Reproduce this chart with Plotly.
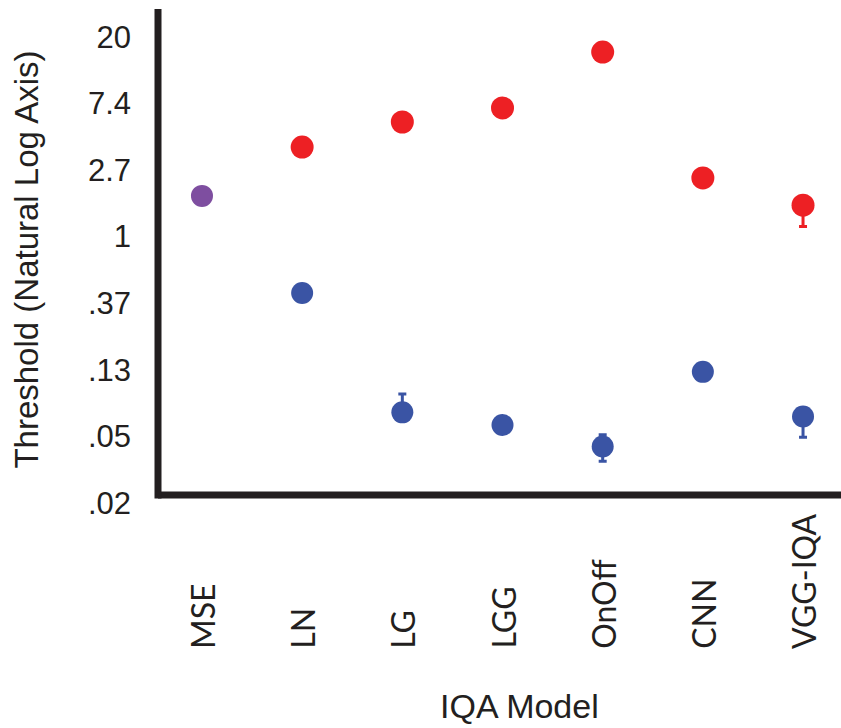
import math
import plotly.graph_objects as go

models = ["MSE", "LN", "LG", "LGG", "OnOff", "CNN", "VGG-IQA"]

mse_value = [1.84]
red_models = ["LN", "LG", "LGG", "OnOff", "CNN", "VGG-IQA"]
red_values = [3.83, 5.58, 6.89, 15.96, 2.41, 1.60]
red_err_plus = [0.15, 0.22, 0.27, 0.6, 0.09, 0.12]
red_err_minus = [0.15, 0.22, 0.27, 0.6, 0.09, 0.44]

blue_models = ["LN", "LG", "LGG", "OnOff", "CNN", "VGG-IQA"]
blue_values = [0.428, 0.0713, 0.059, 0.0427, 0.131, 0.067]
blue_err_plus = [0.017, 0.0226, 0.0023, 0.0082, 0.005, 0.0025]
blue_err_minus = [0.017, 0.0028, 0.0023, 0.0085, 0.005, 0.018]

tick_vals = [math.exp(k) for k in range(-4, 4)]
tick_text = [".02", ".05", ".13", ".37", "1", "2.7", "7.4", "20"]

RED = "#ed2024"
BLUE = "#3a54a4"
PURPLE = "#7e4ea0"
AXIS = "#231f20"

fig = go.Figure()
fig.add_trace(go.Scatter(
    x=["MSE"], y=mse_value, mode="markers",
    marker=dict(size=22, color=PURPLE, line=dict(width=0)),
    showlegend=False))
fig.add_trace(go.Scatter(
    x=red_models, y=red_values, mode="markers",
    marker=dict(size=23, color=RED, line=dict(width=0)),
    error_y=dict(type="data", symmetric=False, array=red_err_plus,
                 arrayminus=red_err_minus, color=RED, thickness=3, width=4),
    showlegend=False))
fig.add_trace(go.Scatter(
    x=blue_models, y=blue_values, mode="markers",
    marker=dict(size=22, color=BLUE, line=dict(width=0)),
    error_y=dict(type="data", symmetric=False, array=blue_err_plus,
                 arrayminus=blue_err_minus, color=BLUE, thickness=3, width=4),
    showlegend=False))

# plot area: top pixel 9, bottom pixel 510 ; x-axis line drawn at pixel 495
H_PLOT = 501.0
axis_frac = (510 - 495) / H_PLOT
corner_frac = (510 - 498.5) / H_PLOT

fig.update_layout(
    width=841, height=728,
    margin=dict(l=158, r=0, t=9, b=218),
    paper_bgcolor="white", plot_bgcolor="white",
    font=dict(family="Liberation Sans, Arial, sans-serif", color=AXIS),
    xaxis=dict(type="category", categoryorder="array", categoryarray=models,
               range=[-0.439, 6.379], showticklabels=False, showline=False,
               showgrid=False, zeroline=False, ticks=""),
    yaxis=dict(type="log",
               range=[-4.107 / math.log(10), 3.416 / math.log(10)],
               tickvals=tick_vals, ticktext=tick_text,
               tickfont=dict(size=31, family="Liberation Sans, Arial, sans-serif", color=AXIS),
               ticks="", ticklabelstandoff=26,
               showline=False, showgrid=False, zeroline=False,
               title=dict(text="Threshold (Natural Log Axis)",
                          font=dict(size=33, family="Liberation Sans, Arial, sans-serif", color=AXIS),
                          standoff=39)),
    shapes=[
        dict(type="line", xref="paper", yref="paper", x0=0, x1=1,
             y0=axis_frac, y1=axis_frac, line=dict(color=AXIS, width=7)),
        dict(type="line", xref="paper", yref="paper", x0=0, x1=0,
             y0=corner_frac, y1=1, line=dict(color=AXIS, width=7)),
    ],
)

annotations = []
for m in models:
    annotations.append(dict(
        x=m, xref="x", y=(510 - 651) / H_PLOT, yref="paper",
        text=m, showarrow=False, textangle=-90,
        xanchor="center", yanchor="bottom",
        font=dict(size=32, family="Lato, Open Sans, sans-serif", color=AXIS)))
annotations.append(dict(
    x=(519 - 158) / (841 - 158), xref="paper",
    y=(510 - 727) / H_PLOT, yref="paper",
    text="IQA Model", showarrow=False, xanchor="center", yanchor="bottom",
    font=dict(size=34, family="Liberation Sans, Arial, sans-serif", color=AXIS)))
fig.update_layout(annotations=annotations)

fig.write_html("out.html")
